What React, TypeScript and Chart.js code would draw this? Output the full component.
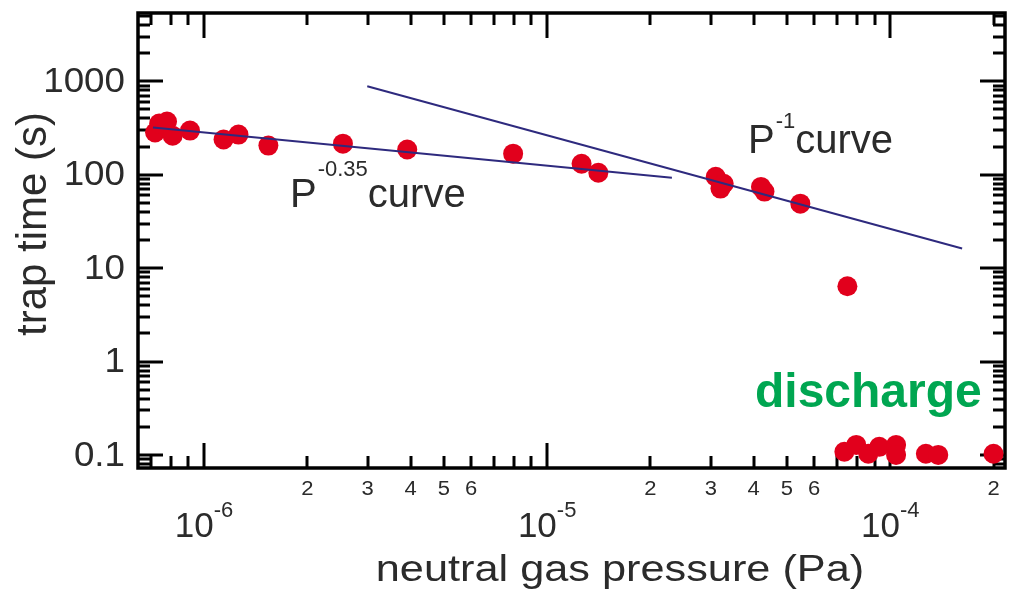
import React, { useEffect, useRef } from "react";
import { Chart, registerables } from "chart.js";

Chart.register(...registerables);

// Measured trap times versus neutral gas pressure
const pressurePa = [
  7.2e-7, 7.4e-7, 7.8e-7, 8.1e-7, 9.1e-7, 1.14e-6, 1.26e-6, 1.54e-6, 2.54e-6,
  3.91e-6, 7.96e-6, 1.26e-5, 1.41e-5, 3.1e-5, 3.27e-5, 3.2e-5, 4.2e-5, 4.3e-5,
  5.47e-5, 7.5e-5,
];
const trapTimeS = [
  283, 353, 371, 262, 297, 238, 269, 205, 215, 186, 168, 131, 105, 95, 80, 71,
  74, 66, 49, 6.4,
];

// Points where the trap discharges
const dischargePressurePa = [
  7.35e-5, 7.96e-5, 8.63e-5, 9.29e-5, 1.04e-4, 1.04e-4, 1.27e-4, 1.38e-4, 2.0e-4,
];
const dischargeTimeS = [0.108, 0.128, 0.103, 0.122, 0.128, 0.1, 0.103, 0.1, 0.103];

// Power-law guide lines (end points)
const fitLowPressurePa = [7.1e-7, 2.31e-5];
const fitLowTimeS = [320, 93];
const fitHighPressurePa = [2.99e-6, 1.62e-4];
const fitHighTimeS = [884, 16.2];

// Axis ranges and labels
const xRange = [6.42e-7, 2.16e-4];
const yRange = [0.0724, 5390];
const yTickValues = [0.1, 1, 10, 100, 1000];
const yTickLabels = ["0.1", "1", "10", "100", "1000"];
const xMajorValues = [1e-6, 1e-5, 1e-4];
const xMajorExponents = ["-6", "-5", "-4"];
const xMinorValues = [2e-6, 3e-6, 4e-6, 5e-6, 6e-6, 2e-5, 3e-5, 4e-5, 5e-5, 6e-5, 2e-4];
const xMinorLabels = ["2", "3", "4", "5", "6", "2", "3", "4", "5", "6", "2"];

const FONT = "'Liberation Sans', Arial, sans-serif";
const TEXT = "#2b2b2b";
const RED = "#e1001c";
const NAVY = "#2e2a7e";
const GREEN = "#00a651";

function toXY(xs: number[], ys: number[]) {
  return xs.map((x, i) => ({ x, y: ys[i] }));
}

function drawScaled(
  ctx: CanvasRenderingContext2D,
  text: string,
  x: number,
  y: number,
  sx: number
) {
  ctx.save();
  ctx.translate(x, y);
  ctx.scale(sx, 1);
  ctx.fillText(text, 0, 0);
  ctx.restore();
}

const framePlugin = {
  id: "frame",
  beforeDatasetsDraw(chart: any) {
    const { ctx, chartArea: a, scales } = chart;
    const xs = scales.x;
    const ys = scales.y;
    ctx.save();
    ctx.strokeStyle = "#000";
    ctx.lineCap = "butt";
    ctx.lineWidth = 3;
    const seg = (x1: number, y1: number, x2: number, y2: number) => {
      ctx.beginPath();
      ctx.moveTo(x1, y1);
      ctx.lineTo(x2, y2);
      ctx.stroke();
    };
    for (let d = -7; d <= -3; d++) {
      for (let m = 1; m <= 9; m++) {
        const v = m * Math.pow(10, d);
        if (v < xs.min || v > xs.max) continue;
        const px = Math.round(xs.getPixelForValue(v));
        const len = m === 1 ? 25 : 12;
        seg(px, a.bottom, px, a.bottom - len);
        seg(px, a.top, px, a.top + len);
      }
    }
    for (let d = -2; d <= 4; d++) {
      for (let m = 1; m <= 9; m++) {
        const v = m * Math.pow(10, d);
        if (v < ys.min || v > ys.max) continue;
        const py = Math.round(ys.getPixelForValue(v));
        const len = m === 1 ? 25 : 12;
        seg(a.left, py, a.left + len, py);
        seg(a.right, py, a.right - len, py);
      }
    }
    ctx.lineWidth = 3.5;
    ctx.strokeRect(a.left, a.top, a.right - a.left, a.bottom - a.top);
    ctx.restore();
  },
  afterDraw(chart: any) {
    const { ctx, chartArea: a, scales } = chart;
    const xs = scales.x;
    const ys = scales.y;
    ctx.save();
    ctx.fillStyle = TEXT;

    // y tick labels
    ctx.font = `35px ${FONT}`;
    ctx.textAlign = "right";
    ctx.textBaseline = "middle";
    yTickValues.forEach((v, i) => {
      const py = ys.getPixelForValue(v);
      drawScaled(ctx, yTickLabels[i], a.left - 13, py + 1, 1.05);
    });

    // x minor tick labels
    ctx.font = `20px ${FONT}`;
    ctx.textAlign = "center";
    ctx.textBaseline = "alphabetic";
    xMinorValues.forEach((v, i) => {
      const px = xs.getPixelForValue(v);
      drawScaled(ctx, xMinorLabels[i], px, a.bottom + 27, 1.1);
    });

    // x decade labels 10^n
    ctx.textAlign = "left";
    xMajorValues.forEach((v, i) => {
      const px = xs.getPixelForValue(v);
      ctx.font = `35px ${FONT}`;
      const wBase = ctx.measureText("10").width;
      ctx.font = `22px ${FONT}`;
      const wExp = ctx.measureText(xMajorExponents[i]).width;
      const total = wBase + wExp;
      const x0 = px - total / 2;
      ctx.font = `35px ${FONT}`;
      ctx.fillText("10", x0, a.bottom + 69);
      ctx.font = `22px ${FONT}`;
      ctx.fillText(xMajorExponents[i], x0 + wBase, a.bottom + 49);
    });

    // axis titles
    ctx.font = `37px ${FONT}`;
    ctx.textAlign = "center";
    ctx.textBaseline = "alphabetic";
    drawScaled(ctx, "neutral gas pressure (Pa)", 620, 581, 1.17);

    ctx.save();
    ctx.font = `42px ${FONT}`;
    ctx.translate(46, 224);
    ctx.rotate(-Math.PI / 2);
    ctx.textAlign = "center";
    ctx.fillText("trap time (s)", 0, 0);
    ctx.restore();

    // curve annotations
    const powerLabel = (x: number, base: number, exp: string, rise: number) => {
      ctx.textAlign = "left";
      ctx.font = `40px ${FONT}`;
      ctx.fillText("P", x, base);
      let cx = x + ctx.measureText("P").width + 1;
      ctx.font = `22px ${FONT}`;
      ctx.fillText(exp, cx, base - rise);
      cx += ctx.measureText(exp).width;
      ctx.font = `40px ${FONT}`;
      ctx.fillText("curve", cx, base);
    };
    powerLabel(290, 207, "-0.35", 31);
    powerLabel(748, 153, "-1", 25);

    ctx.fillStyle = GREEN;
    ctx.font = `bold 48px ${FONT}`;
    ctx.textAlign = "left";
    ctx.fillText("discharge", 755, 407);
    ctx.restore();
  },
};

export default function App() {
  const canvasRef = useRef<HTMLCanvasElement | null>(null);

  useEffect(() => {
    const canvas = canvasRef.current;
    if (!canvas) return;
    const chart = new Chart(canvas, {
      type: "scatter",
      data: {
        datasets: [
          {
            type: "line",
            data: toXY(fitLowPressurePa, fitLowTimeS),
            borderColor: NAVY,
            borderWidth: 2,
            pointRadius: 0,
            fill: false,
          },
          {
            type: "line",
            data: toXY(fitHighPressurePa, fitHighTimeS),
            borderColor: NAVY,
            borderWidth: 2,
            pointRadius: 0,
            fill: false,
          },
          {
            data: toXY(pressurePa, trapTimeS),
            backgroundColor: RED,
            borderWidth: 0,
            pointRadius: 10,
          },
          {
            data: toXY(dischargePressurePa, dischargeTimeS),
            backgroundColor: RED,
            borderWidth: 0,
            pointRadius: 10,
          },
        ],
      },
      options: {
        responsive: false,
        animation: false,
        devicePixelRatio: 1,
        layout: {
          autoPadding: false,
          padding: { left: 138, right: 11, top: 13, bottom: 122 },
        },
        plugins: {
          legend: { display: false },
          tooltip: { enabled: false },
        },
        scales: {
          x: { type: "logarithmic", min: xRange[0], max: xRange[1], display: false },
          y: { type: "logarithmic", min: yRange[0], max: yRange[1], display: false },
        },
      },
      plugins: [framePlugin],
    } as any);
    return () => chart.destroy();
  }, []);

  return (
    <div style={{ position: "fixed", left: 0, top: 0, width: 1016, height: 590, background: "#fff" }}>
      <canvas ref={canvasRef} width={1016} height={590} />
    </div>
  );
}
